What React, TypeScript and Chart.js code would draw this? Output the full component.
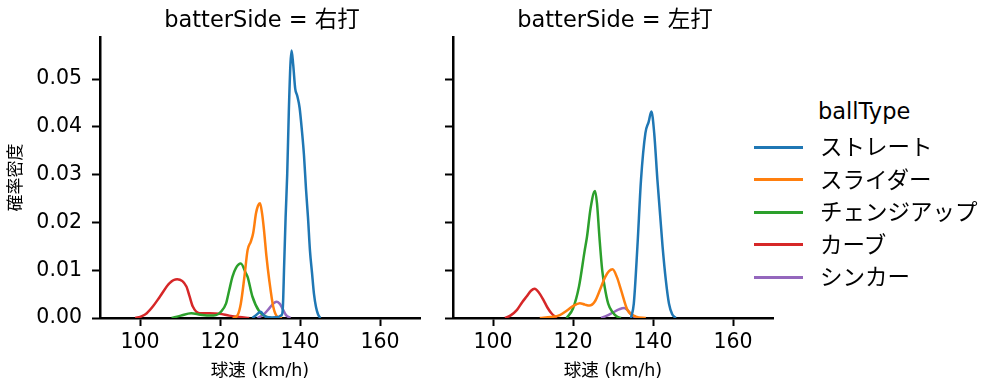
import React, { useEffect, useRef } from "react";
import { Chart, registerables } from "chart.js";

Chart.register(...registerables);

// ---- data ----
const BALL_TYPES = ["ストレート", "スライダー", "チェンジアップ", "カーブ", "シンカー"];
const COLORS = ["#1f77b4", "#ff7f0e", "#2ca02c", "#d62728", "#9467bd"];
const PANEL_TITLES = ["batterSide = 右打", "batterSide = 左打"];
const X_TICKS = [100, 120, 140, 160];
const Y_TICKS = [0, 0.01, 0.02, 0.03, 0.04, 0.05];
const X_LABEL = "球速 (km/h)";
const Y_LABEL = "確率密度";
const LEGEND_TITLE = "ballType";

// 右打
const R_STRAIGHT_X = [128.1, 129.0, 130.2, 131.0, 131.6, 133.0, 134.5, 135.2, 135.6, 135.8, 136.0, 136.4, 136.8, 137.2, 137.6, 137.9, 138.3, 138.8, 139.3, 139.9, 140.5, 141.0, 141.5, 142.0, 142.5, 143.0, 143.5, 144.0, 144.5, 145.1];
const R_STRAIGHT_Y = [0, 0.0006, 0.0013, 0.0005, 0.0002, 0.0001, 0.0002, 0.0005, 0.001, 0.004, 0.010, 0.021, 0.030, 0.043, 0.053, 0.056, 0.053, 0.048, 0.0465, 0.044, 0.039, 0.034, 0.027, 0.021, 0.014, 0.0095, 0.005, 0.0023, 0.0008, 0];
const R_SLIDER_X = [123.2, 124.4, 125.2, 126.1, 126.9, 127.7, 128.3, 129.0, 129.5, 130.0, 130.5, 131.0, 131.6, 132.3, 133.3, 134.3, 135.5];
const R_SLIDER_Y = [0, 0.0006, 0.003, 0.0086, 0.0142, 0.016, 0.0178, 0.0219, 0.0235, 0.024, 0.022, 0.0184, 0.013, 0.008, 0.0024, 0.0003, 0];
const R_CHANGEUP_X = [107.9, 110.2, 112.8, 115.1, 117.5, 119.0, 120.1, 121.5, 122.3, 123.1, 124.0, 125.2, 126.5, 126.9, 128.1, 129.8, 131.5, 132.8];
const R_CHANGEUP_Y = [0, 0.0005, 0.001, 0.0007, 0.0005, 0.0006, 0.0012, 0.003, 0.0058, 0.0086, 0.0105, 0.0114, 0.0093, 0.0086, 0.0045, 0.0014, 0.0003, 0];
const R_CURVE_X = [98.8, 100.5, 101.7, 103.3, 105.0, 107.4, 109.3, 111.6, 112.4, 113.2, 114.9, 117.4, 119.9, 122.3, 124.8, 127.3];
const R_CURVE_Y = [0, 0.0004, 0.001, 0.0025, 0.0045, 0.0073, 0.0081, 0.0066, 0.0045, 0.0024, 0.001, 0.001, 0.0009, 0.0005, 0.0002, 0];
const R_SINKER_X = [129.4, 131.0, 132.3, 133.3, 134.1, 134.9, 135.6, 136.5, 137.6];
const R_SINKER_Y = [0, 0.0008, 0.002, 0.003, 0.0034, 0.003, 0.002, 0.0006, 0];

// 左打
const L_STRAIGHT_X = [134.5, 135.2, 136.1, 137.0, 138.1, 138.9, 139.6, 140.3, 141.1, 142.4, 143.2, 144.0, 144.8, 145.7];
const L_STRAIGHT_Y = [0, 0.003, 0.0149, 0.0289, 0.0387, 0.041, 0.0432, 0.0387, 0.0289, 0.0149, 0.008, 0.003, 0.0008, 0];
const L_SLIDER_X = [111.7, 114.5, 116.7, 118.4, 120.0, 121.7, 123.0, 124.1, 125.5, 126.8, 128.0, 129.0, 129.9, 131.0, 132.0, 133.6, 135.7, 138.2];
const L_SLIDER_Y = [0, 0.0002, 0.0006, 0.0015, 0.0025, 0.0031, 0.0028, 0.0026, 0.0035, 0.006, 0.0085, 0.0098, 0.0102, 0.0085, 0.0059, 0.0017, 0.0003, 0];
const L_CHANGEUP_X = [118.4, 120.0, 121.5, 122.9, 123.5, 124.4, 125.5, 126.0, 126.6, 127.3, 127.9, 128.8, 129.9, 131.0, 132.0];
const L_CHANGEUP_Y = [0, 0.002, 0.0066, 0.014, 0.017, 0.023, 0.0266, 0.024, 0.017, 0.010, 0.0066, 0.003, 0.0012, 0.0003, 0];
const L_CURVE_X = [103.0, 104.5, 106.0, 107.3, 108.4, 109.5, 110.4, 111.5, 112.6, 113.6, 114.6, 115.9];
const L_CURVE_Y = [0, 0.0006, 0.0017, 0.0033, 0.0045, 0.0057, 0.0061, 0.0053, 0.0038, 0.0022, 0.001, 0];
const L_SINKER_X = [127.0, 128.5, 129.9, 131.5, 132.8, 133.8, 134.5, 135.7];
const L_SINKER_Y = [0, 0.0005, 0.0011, 0.0018, 0.0021, 0.0015, 0.0008, 0];

const RIGHT_SERIES = [
  [R_STRAIGHT_X, R_STRAIGHT_Y],
  [R_SLIDER_X, R_SLIDER_Y],
  [R_CHANGEUP_X, R_CHANGEUP_Y],
  [R_CURVE_X, R_CURVE_Y],
  [R_SINKER_X, R_SINKER_Y],
];
const LEFT_SERIES = [
  [L_STRAIGHT_X, L_STRAIGHT_Y],
  [L_SLIDER_X, L_SLIDER_Y],
  [L_CHANGEUP_X, L_CHANGEUP_Y],
  [L_CURVE_X, L_CURVE_Y],
  [L_SINKER_X, L_SINKER_Y],
];

const FONT = '"DejaVu Sans", "Noto Sans CJK JP", sans-serif';
const H = 391;
const PLOT_TOP = 37;
const PLOT_BOTTOM = 318;

const titlePlugin = {
  id: "panelTitle",
  afterDraw(chart: any, _args: any, opts: any) {
    const { ctx, chartArea } = chart;
    ctx.save();
    ctx.font = `22.5px ${FONT}`;
    ctx.fillStyle = "#000";
    ctx.textAlign = "center";
    ctx.textBaseline = "middle";
    ctx.fillText(opts.text, (chartArea.left + chartArea.right) / 2 + 2, 21);
    ctx.restore();
  },
};

function Panel(props: { series: number[][][]; title: string; showY: boolean; left: number; width: number; yWidth: number }) {
  const ref = useRef<HTMLCanvasElement | null>(null);
  useEffect(() => {
    if (!ref.current) return;
    const datasets = props.series.map(([xs, ys], i) => ({
      label: BALL_TYPES[i],
      data: xs.map((x, j) => ({ x, y: ys[j] })),
      borderColor: COLORS[i],
      backgroundColor: COLORS[i],
      borderWidth: 2.5,
      pointRadius: 0,
      fill: false,
      cubicInterpolationMode: "monotone" as const,
    }));
    const chart = new Chart(ref.current, {
      type: "line",
      data: { datasets },
      plugins: [titlePlugin],
      options: {
        animation: false,
        responsive: false,
        layout: { padding: { top: PLOT_TOP, right: 10, left: 0, bottom: 0 } },
        plugins: {
          legend: { display: false },
          tooltip: { enabled: false },
          panelTitle: { text: props.title },
        } as any,
        scales: {
          x: {
            type: "linear",
            min: 90,
            max: 170,
            afterBuildTicks: (s: any) => {
              s.ticks = X_TICKS.map((v) => ({ value: v }));
            },
            afterFit: (s: any) => {
              s.height = H - PLOT_BOTTOM;
            },
            grid: { display: true, drawOnChartArea: false, drawTicks: true, tickLength: 8, tickWidth: 2, tickColor: "#000" },
            border: { display: true, color: "#000", width: 2.5 },
            ticks: { color: "#000", font: { family: FONT, size: 20.5 }, padding: 4, maxRotation: 0, autoSkip: false },
            title: { display: true, text: X_LABEL, color: "#000", font: { family: FONT, size: 17.5 }, padding: { top: 0, bottom: 9 } },
          },
          y: {
            type: "linear",
            min: 0,
            max: 0.0588,
            afterBuildTicks: (s: any) => {
              s.ticks = Y_TICKS.map((v) => ({ value: v }));
            },
            afterFit: (s: any) => {
              s.width = props.yWidth;
            },
            grid: { display: true, drawOnChartArea: false, drawTicks: true, tickLength: 8, tickWidth: 2, tickColor: "#000" },
            border: { display: true, color: "#000", width: 2.5 },
            ticks: {
              display: props.showY,
              color: "#000",
              font: { family: FONT, size: 20.5 },
              padding: 10,
              callback: (v: any) => Number(v).toFixed(2),
            },
            title: { display: props.showY, text: Y_LABEL, color: "#000", font: { family: FONT, size: 17 }, padding: { top: 6, bottom: 0 } },
          },
        },
      } as any,
    });
    return () => chart.destroy();
  }, []);
  return (
    <canvas
      ref={ref}
      width={props.width}
      height={H}
      style={{ position: "absolute", left: props.left, top: 0, width: props.width, height: H }}
    />
  );
}

function Legend() {
  return (
    <div style={{ position: "absolute", left: 754, top: 0, fontFamily: FONT, color: "#000" }}>
      <div style={{ position: "absolute", left: 64, top: 98, fontSize: 22.5, whiteSpace: "nowrap", lineHeight: "27px" }}>{LEGEND_TITLE}</div>
      {BALL_TYPES.map((name, i) => (
        <div key={name} style={{ position: "absolute", left: 0, top: 147 + i * 32.5 - 13, height: 26, whiteSpace: "nowrap" }}>
          <div style={{ position: "absolute", left: 0, top: 11.5, width: 49, height: 3, background: COLORS[i] }} />
          <div style={{ position: "absolute", left: 66, top: 0, fontSize: 22.5, lineHeight: "26px" }}>{name}</div>
        </div>
      ))}
    </div>
  );
}

export default function App() {
  return (
    <div style={{ position: "absolute", left: 0, top: 0, width: 999, height: H, background: "#fff", overflow: "hidden" }}>
      <Panel series={RIGHT_SERIES} title={PANEL_TITLES[0]} showY={true} left={0} width={430} yWidth={100} />
      <Panel series={LEFT_SERIES} title={PANEL_TITLES[1]} showY={false} left={430} width={353} yWidth={23} />
      <Legend />
    </div>
  );
}
